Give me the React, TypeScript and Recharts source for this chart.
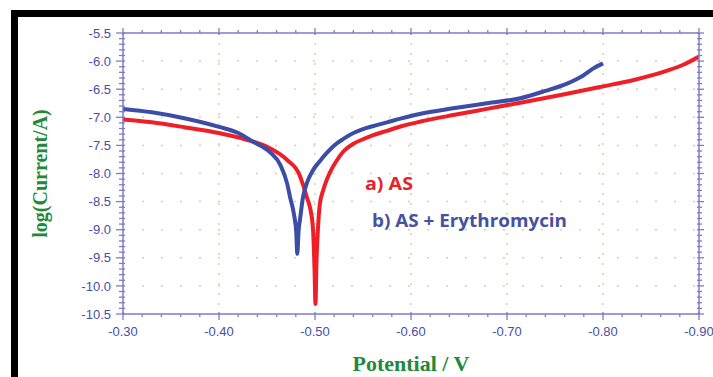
import { LineChart, Line, XAxis, YAxis, CartesianGrid } from "recharts";

// a) AS
const asPotential = [
  -0.3, -0.33, -0.365, -0.4, -0.435, -0.453, -0.471, -0.484, -0.4875, -0.492, -0.495, -0.498,
  -0.4995, -0.5005, -0.5015, -0.503, -0.505, -0.5085, -0.5125, -0.518, -0.523, -0.53, -0.54,
  -0.55, -0.56, -0.575, -0.59, -0.609, -0.644, -0.679, -0.714, -0.7625, -0.797, -0.831, -0.867,
  -0.883, -0.9,
];
const asLogI = [
  -7.04, -7.09, -7.18, -7.28, -7.43, -7.55, -7.76, -8.03, -8.2, -8.45, -8.62, -9.01,
  -9.7, -10.32, -9.6, -9.01, -8.55, -8.3, -8.1, -7.9, -7.76, -7.6, -7.47,
  -7.39, -7.32, -7.24, -7.16, -7.08, -6.96, -6.85, -6.74, -6.58, -6.46, -6.34, -6.17,
  -6.07, -5.92,
];

// b) AS + Erythromycin
const eryPotential = [
  -0.3, -0.33, -0.365, -0.4, -0.42, -0.435, -0.453, -0.464, -0.471, -0.474, -0.478, -0.4805,
  -0.4815, -0.483, -0.4845, -0.4875, -0.492, -0.498, -0.505, -0.5125, -0.52, -0.53, -0.54,
  -0.55, -0.56, -0.575, -0.59, -0.609, -0.644, -0.679, -0.714, -0.74, -0.7625, -0.779, -0.79,
  -0.8,
];
const eryLogI = [
  -6.85, -6.91, -7.02, -7.17, -7.28, -7.43, -7.62, -7.85, -8.18, -8.42, -8.72, -9.05,
  -9.43, -9.0, -8.8, -8.42, -8.15, -7.94, -7.78, -7.63, -7.5, -7.38, -7.28,
  -7.21, -7.16, -7.09, -7.02, -6.94, -6.84, -6.75, -6.66, -6.53, -6.4, -6.26, -6.13,
  -6.04,
];

const xGridValues = [-0.4, -0.5, -0.6, -0.7, -0.8];
const yGridValues = [-6.0, -6.5, -7.0, -7.5, -8.0, -8.5, -9.0, -9.5, -10.0];

// tick marks: every 0.02 V on x, every 0.1 on y, labels on the majors
const xTicks = Array.from({ length: 31 }, (_, i) => +(-0.3 - i * 0.02).toFixed(2));
const yTicks = Array.from({ length: 51 }, (_, i) => +(-5.5 - i * 0.1).toFixed(1));

const asData = asPotential.map((p, i) => ({ p, logI: asLogI[i] }));
const eryData = eryPotential.map((p, i) => ({ p, logI: eryLogI[i] }));

const AXIS = "#7d7dc6";
const TICK_TEXT = "#4c4ca6";
const GREEN = "#23883a";
const SANS = "'Liberation Sans', Arial, sans-serif";
const SERIF = "'Liberation Serif', 'Times New Roman', serif";

const isMajor = (v: number, step: number) => Math.abs(Math.round(v / step) * step - v) < 1e-6;

function BottomTick({ x, y, payload }: any) {
  const major = isMajor(payload.value, 0.1);
  return (
    <g>
      <line x1={x} x2={x} y1={major ? y - 2 : y} y2={major ? y + 6 : y + 3} stroke={AXIS} strokeWidth={1.3} />
      {major && (
        <text x={x} y={y + 22} textAnchor="middle" fill={TICK_TEXT} fontSize={13} fontFamily={SANS}>
          {payload.value.toFixed(2)}
        </text>
      )}
    </g>
  );
}

function LeftTick({ x, y, payload }: any) {
  const major = isMajor(payload.value, 0.5);
  return (
    <g>
      <line x1={major ? x - 7 : x - 4} x2={x + 2} y1={y} y2={y} stroke={AXIS} strokeWidth={1.3} />
      {major && (
        <text x={x - 12} y={y} dy="0.36em" textAnchor="end" fill={TICK_TEXT} fontSize={13} fontFamily={SANS}>
          {payload.value.toFixed(1)}
        </text>
      )}
    </g>
  );
}

function TopTick({ x, y, payload }: any) {
  const major = isMajor(payload.value, 0.1);
  return <line x1={x} x2={x} y1={major ? y - 5 : y - 3} y2={major ? y + 2 : y} stroke={AXIS} strokeWidth={1.3} />;
}

function RightTick({ x, y, payload }: any) {
  const major = isMajor(payload.value, 0.5);
  return <line x1={x - 2} x2={major ? x + 5 : x + 3} y1={y} y2={y} stroke={AXIS} strokeWidth={1.3} />;
}

export default function App() {
  return (
    <div style={{ position: "fixed", left: 0, top: 0, width: 713, height: 377, background: "#fff", overflow: "hidden" }}>
      <div
        style={{
          position: "absolute",
          left: 11,
          top: 10,
          width: 702,
          height: 367,
          boxSizing: "border-box",
          borderTop: "7px solid #000",
          borderLeft: "7px solid #000",
        }}
      />
      <div style={{ position: "absolute", left: 0, top: 0 }}>
        <LineChart width={713} height={377} margin={{ top: 23, right: 6, bottom: 8, left: 23 }}>
          <CartesianGrid horizontal vertical={false} horizontalValues={yGridValues} stroke="#d4d4a6" strokeWidth={1.5} strokeDasharray="2 17" />
          <CartesianGrid horizontal={false} vertical verticalValues={xGridValues} stroke="#d4d4a6" strokeWidth={1.5} strokeDasharray="2 8" />
          <XAxis
            dataKey="p"
            type="number"
            domain={[-0.9, -0.3]}
            reversed
            allowDataOverflow
            ticks={xTicks}
            interval={0}
            tickSize={0}
            tickMargin={0}
            tickLine={false}
            tick={BottomTick}
            height={55}
            axisLine={{ stroke: AXIS, strokeWidth: 1.5 }}
            label={{
              value: "Potential / V",
              position: "insideBottom",
              offset: -2,
              style: { fill: GREEN, fontSize: 22, fontWeight: "bold", fontFamily: SERIF },
            }}
          />
          <XAxis
            xAxisId="top"
            orientation="top"
            dataKey="p"
            type="number"
            domain={[-0.9, -0.3]}
            reversed
            allowDataOverflow
            ticks={xTicks}
            interval={0}
            tickSize={0}
            tickMargin={0}
            tickLine={false}
            tick={TopTick}
            height={10}
            axisLine={{ stroke: AXIS, strokeWidth: 1.5 }}
          />
          <YAxis
            type="number"
            domain={[-10.5, -5.5]}
            allowDataOverflow
            ticks={yTicks}
            interval={0}
            tickSize={0}
            tickMargin={0}
            tickLine={false}
            tick={LeftTick}
            width={100}
            axisLine={{ stroke: AXIS, strokeWidth: 1.5 }}
            label={{
              value: "log(Current/A)",
              angle: -90,
              position: "insideLeft",
              offset: 17,
              style: { textAnchor: "middle", fill: GREEN, fontSize: 20, fontWeight: "bold", fontFamily: SERIF },
            }}
          />
          <YAxis
            yAxisId="right"
            orientation="right"
            type="number"
            domain={[-10.5, -5.5]}
            allowDataOverflow
            ticks={yTicks}
            interval={0}
            tickSize={0}
            tickMargin={0}
            tickLine={false}
            tick={RightTick}
            width={8}
            axisLine={{ stroke: AXIS, strokeWidth: 1.5 }}
          />
          <Line data={asData} dataKey="logI" type="monotone" stroke="#ee1f26" strokeWidth={4} dot={false} isAnimationActive={false} />
          <Line data={eryData} dataKey="logI" type="monotone" stroke="#3b4da6" strokeWidth={4} dot={false} isAnimationActive={false} />
        </LineChart>
      </div>
      <svg width={713} height={377} style={{ position: "absolute", left: 0, top: 0, pointerEvents: "none" }}>
        <text x={365} y={190} fill="#e8212b" fontSize={17} fontWeight="bold" fontFamily="'Open Sans', sans-serif" textLength={48} lengthAdjust="spacingAndGlyphs">
          a) AS
        </text>
        <text x={372} y={227} fill="#4652a0" fontSize={17} fontWeight="bold" fontFamily="'Open Sans', sans-serif" textLength={195} lengthAdjust="spacingAndGlyphs">
          b) AS + Erythromycin
        </text>
      </svg>
    </div>
  );
}
